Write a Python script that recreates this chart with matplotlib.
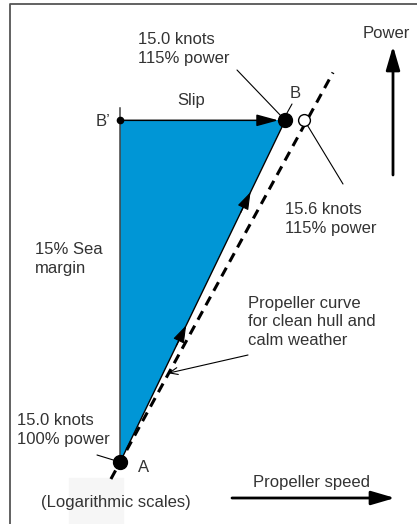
import numpy as np
import matplotlib.pyplot as plt
from matplotlib.patches import Rectangle

# points: A (clean hull, 100% power), B' (sea margin), B (heavy running)
rpm_pct = [100.0, 100.0, 104.2]
power_pct = [100.0, 115.0, 115.0]
point_names = ["A", "B\u2019", "B"]

# propeller curve for clean hull and calm weather (straight on log-log)
clean_rpm = [99.77, 105.45]
clean_power = [99.31, 117.27]
clean_point = (104.7, 115.0)
margin_top = 115.6

W, H = 417, 524
plt.rcParams['font.family'] = ['Liberation Sans', 'DejaVu Sans']
fig = plt.figure(figsize=(W / 100, H / 100), dpi=100)
ax = fig.add_axes([0, 0, 1, 1])
ax.set_xscale('log')
ax.set_yscale('log')
ax.set_xlim(97.05, 107.68)
ax.set_ylim(97.5, 120.8)
ax.axis('off')

def px(x, y):
    return (x / W, 1 - y / H)

txt = dict(fontsize=12, color='#333333', linespacing=1.3, transform=ax.transAxes)

# frame (left and top only)
ax.plot([10 / W, 10 / W, 1], [0, 1 - 4 / H, 1 - 4 / H], color='#555555', lw=1.3,
        transform=ax.transAxes, clip_on=False)
ax.add_patch(Rectangle(px(69, 524), 54 / W, 46 / H, transform=ax.transAxes,
                       color='#f6f6f6', zorder=0))

# sea margin triangle
ax.fill(rpm_pct, power_pct, color='#0096d6', lw=0, zorder=1)
ax.plot([rpm_pct[0], rpm_pct[1]], [power_pct[0], margin_top], color='#444444', lw=1.1, zorder=2)
ax.plot([rpm_pct[0], rpm_pct[2]], [power_pct[0], power_pct[2]], color='black', lw=1.0, zorder=2)

# arrowheads along A -> B
lx = np.log10([rpm_pct[0], rpm_pct[2]])
ly = np.log10([power_pct[0], power_pct[2]])
for f in [0.40, 0.79]:
    tip = (10 ** (lx[0] + f * (lx[1] - lx[0])), 10 ** (ly[0] + f * (ly[1] - ly[0])))
    tail = (10 ** (lx[0] + (f - 0.06) * (lx[1] - lx[0])), 10 ** (ly[0] + (f - 0.06) * (ly[1] - ly[0])))
    ax.annotate('', xy=tip, xytext=tail,
                arrowprops=dict(arrowstyle='-|>,head_length=0.9,head_width=0.3', color='black',
                                lw=0.8, shrinkA=0, shrinkB=0, mutation_scale=12), zorder=3)

# slip arrow B' -> B
ax.annotate('', xy=(rpm_pct[2], power_pct[2]), xytext=(rpm_pct[1], power_pct[1]),
            arrowprops=dict(arrowstyle='-|>,head_length=1.1,head_width=0.3', color='black',
                            lw=1.1, shrinkA=0, shrinkB=5, mutation_scale=12), zorder=3)

# clean hull propeller curve
ax.plot(clean_rpm, clean_power, color='black', lw=2.2, linestyle=(0, (3.2, 2.2)), zorder=2)

# points
ax.plot(rpm_pct[0], power_pct[0], 'o', color='black', ms=10, zorder=5)
ax.plot(rpm_pct[1], power_pct[1], 'o', color='black', ms=4.5, zorder=5)
ax.plot(rpm_pct[2], power_pct[2], 'o', color='black', ms=10, zorder=5)
ax.plot(*clean_point, 'o', mfc='white', mec='black', mew=1.0, ms=8.5, zorder=5)

# leader lines
leader = dict(arrowstyle='-', color='black', lw=0.8, shrinkA=0, shrinkB=0)
ax.annotate('', xy=(rpm_pct[2], power_pct[2]), xytext=px(237, 70), textcoords='axes fraction',
            arrowprops=leader, zorder=4)
ax.annotate('', xy=px(287, 113), xycoords='axes fraction', xytext=px(292, 104),
            textcoords='axes fraction', arrowprops=leader, zorder=4)
ax.annotate('', xy=clean_point, xytext=px(343, 184), textcoords='axes fraction',
            arrowprops=leader, zorder=4)
ax.annotate('', xy=(rpm_pct[0], power_pct[0]), xytext=px(97, 455), textcoords='axes fraction',
            arrowprops=leader, zorder=4)
ax.annotate('', xy=(101.2, 103.7), xytext=px(248, 355), textcoords='axes fraction',
            arrowprops=dict(arrowstyle='->,head_length=0.6,head_width=0.25', color='black',
                            lw=0.8, shrinkA=0, shrinkB=0), zorder=4)

# axis arrows
big = dict(arrowstyle='-|>,head_length=1.2,head_width=0.35', color='black', lw=2.0,
           shrinkA=0, shrinkB=0, mutation_scale=12)
ax.annotate('', xy=px(393, 46), xycoords='axes fraction', xytext=px(393, 175),
            textcoords='axes fraction', arrowprops=big)
ax.annotate('', xy=px(395, 498), xycoords='axes fraction', xytext=px(232, 498),
            textcoords='axes fraction', arrowprops=big)

# labels
ax.text(*px(138, 49), "15.0 knots\n115% power", va='center', **txt)
ax.text(*px(363, 33), "Power", va='center', **txt)
ax.text(*px(191, 100), "Slip", va='center', ha='center', **txt)
ax.text(*px(290, 93), point_names[2], va='center', **txt)
ax.text(*px(110, 122), point_names[1], va='center', ha='right', **txt)
ax.text(*px(285, 219), "15.6 knots\n115% power", va='center', **txt)
ax.text(*px(35, 259), "15% Sea\nmargin", va='center', **txt)
ax.text(*px(248, 322), "Propeller curve\nfor clean hull and\ncalm weather", va='center', **txt)
ax.text(*px(17, 430), "15.0 knots\n100% power", va='center', **txt)
ax.text(*px(138, 468), point_names[0], va='center', **txt)
ax.text(*px(253, 483), "Propeller speed", va='center', **txt)
ax.text(*px(41, 503), "(Logarithmic scales)", va='center', **txt)

fig.savefig('out.png', dpi=100)
